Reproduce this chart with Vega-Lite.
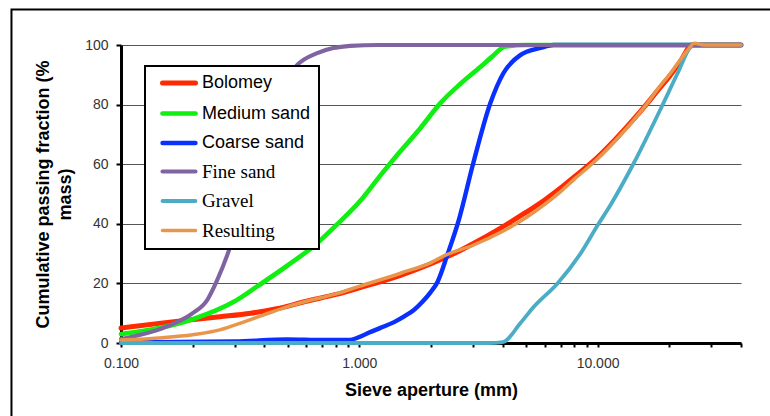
{
  "$schema": "https://vega.github.io/schema/vega-lite/v6.json",
  "width": 620,
  "height": 298,
  "autosize": {"type": "none"},
  "padding": {"left": 121, "top": 45, "right": 29, "bottom": 73},
  "background": "white",
  "config": {
    "view": {"stroke": null},
    "font": "Liberation Sans",
    "axis": {
      "labelFont": "Liberation Sans",
      "labelFontSize": 14,
      "labelColor": "#333333",
      "titleFont": "Liberation Sans",
      "titleFontSize": 18,
      "titleFontWeight": "bold",
      "titleColor": "#000000",
      "domainColor": "#000000",
      "domainWidth": 3,
      "tickColor": "#000000",
      "tickWidth": 2
    }
  },
  "datasets": {
    "curves": [
      {"s": "Bolomey", "d": 0.1, "p": 5},
      {"s": "Bolomey", "d": 0.16, "p": 7},
      {"s": "Bolomey", "d": 0.26, "p": 8.8},
      {"s": "Bolomey", "d": 0.35, "p": 10},
      {"s": "Bolomey", "d": 0.45, "p": 11.5},
      {"s": "Bolomey", "d": 0.6, "p": 14},
      {"s": "Bolomey", "d": 0.8, "p": 16.3},
      {"s": "Bolomey", "d": 1, "p": 18.5},
      {"s": "Bolomey", "d": 1.5, "p": 22.8},
      {"s": "Bolomey", "d": 2, "p": 26.6},
      {"s": "Bolomey", "d": 2.5, "p": 30},
      {"s": "Bolomey", "d": 3, "p": 33.3},
      {"s": "Bolomey", "d": 4, "p": 39},
      {"s": "Bolomey", "d": 5, "p": 43.8},
      {"s": "Bolomey", "d": 6, "p": 48},
      {"s": "Bolomey", "d": 7, "p": 52},
      {"s": "Bolomey", "d": 8, "p": 55.8},
      {"s": "Bolomey", "d": 10, "p": 62.3},
      {"s": "Bolomey", "d": 12, "p": 68.7},
      {"s": "Bolomey", "d": 14, "p": 74.6},
      {"s": "Bolomey", "d": 16.2, "p": 80.5},
      {"s": "Bolomey", "d": 18, "p": 85},
      {"s": "Bolomey", "d": 20, "p": 89.4},
      {"s": "Bolomey", "d": 22, "p": 93.8},
      {"s": "Bolomey", "d": 25, "p": 100},
      {"s": "Bolomey", "d": 40, "p": 100},

      {"s": "Medium sand", "d": 0.1, "p": 3},
      {"s": "Medium sand", "d": 0.15, "p": 5.3},
      {"s": "Medium sand", "d": 0.2, "p": 8},
      {"s": "Medium sand", "d": 0.26, "p": 11.5},
      {"s": "Medium sand", "d": 0.3, "p": 14},
      {"s": "Medium sand", "d": 0.373, "p": 19},
      {"s": "Medium sand", "d": 0.5, "p": 26},
      {"s": "Medium sand", "d": 0.666, "p": 33.5},
      {"s": "Medium sand", "d": 0.8, "p": 39.5},
      {"s": "Medium sand", "d": 1.03, "p": 48.5},
      {"s": "Medium sand", "d": 1.22, "p": 56},
      {"s": "Medium sand", "d": 1.44, "p": 63},
      {"s": "Medium sand", "d": 1.8, "p": 72},
      {"s": "Medium sand", "d": 2.19, "p": 80.5},
      {"s": "Medium sand", "d": 2.66, "p": 87},
      {"s": "Medium sand", "d": 3.22, "p": 92.6},
      {"s": "Medium sand", "d": 3.6, "p": 96},
      {"s": "Medium sand", "d": 4.1, "p": 99.5},
      {"s": "Medium sand", "d": 5, "p": 100},
      {"s": "Medium sand", "d": 40, "p": 100},

      {"s": "Coarse sand", "d": 0.1, "p": 0.2},
      {"s": "Coarse sand", "d": 0.3, "p": 0.5},
      {"s": "Coarse sand", "d": 0.5, "p": 1.2},
      {"s": "Coarse sand", "d": 0.7, "p": 1},
      {"s": "Coarse sand", "d": 0.9, "p": 1},
      {"s": "Coarse sand", "d": 1, "p": 2},
      {"s": "Coarse sand", "d": 1.1, "p": 3.5},
      {"s": "Coarse sand", "d": 1.22, "p": 5},
      {"s": "Coarse sand", "d": 1.4, "p": 7},
      {"s": "Coarse sand", "d": 1.55, "p": 9},
      {"s": "Coarse sand", "d": 1.69, "p": 11},
      {"s": "Coarse sand", "d": 1.85, "p": 14},
      {"s": "Coarse sand", "d": 1.99, "p": 17},
      {"s": "Coarse sand", "d": 2.13, "p": 20.5},
      {"s": "Coarse sand", "d": 2.34, "p": 29.5},
      {"s": "Coarse sand", "d": 2.61, "p": 41},
      {"s": "Coarse sand", "d": 3.01, "p": 60.4},
      {"s": "Coarse sand", "d": 3.55, "p": 80.5},
      {"s": "Coarse sand", "d": 4.03, "p": 90.6},
      {"s": "Coarse sand", "d": 4.74, "p": 96.6},
      {"s": "Coarse sand", "d": 5.76, "p": 99},
      {"s": "Coarse sand", "d": 6.53, "p": 100},
      {"s": "Coarse sand", "d": 40, "p": 100},

      {"s": "Gravel", "d": 0.1, "p": 0},
      {"s": "Gravel", "d": 3.5, "p": 0},
      {"s": "Gravel", "d": 4, "p": 0.3},
      {"s": "Gravel", "d": 4.75, "p": 6.7},
      {"s": "Gravel", "d": 5.38, "p": 12},
      {"s": "Gravel", "d": 6.79, "p": 20},
      {"s": "Gravel", "d": 8.48, "p": 30},
      {"s": "Gravel", "d": 10.1, "p": 40},
      {"s": "Gravel", "d": 11, "p": 44.6},
      {"s": "Gravel", "d": 14.2, "p": 60.4},
      {"s": "Gravel", "d": 18.9, "p": 80.5},
      {"s": "Gravel", "d": 21.7, "p": 90.6},
      {"s": "Gravel", "d": 24.6, "p": 99.3},
      {"s": "Gravel", "d": 25.5, "p": 100},
      {"s": "Gravel", "d": 40, "p": 100},

      {"s": "Fine sand", "d": 0.1, "p": 1.3},
      {"s": "Fine sand", "d": 0.161, "p": 6},
      {"s": "Fine sand", "d": 0.2, "p": 10},
      {"s": "Fine sand", "d": 0.23, "p": 14.4},
      {"s": "Fine sand", "d": 0.253, "p": 21},
      {"s": "Fine sand", "d": 0.295, "p": 35},
      {"s": "Fine sand", "d": 0.348, "p": 55},
      {"s": "Fine sand", "d": 0.423, "p": 78},
      {"s": "Fine sand", "d": 0.549, "p": 93.3},
      {"s": "Fine sand", "d": 0.666, "p": 97.3},
      {"s": "Fine sand", "d": 0.917, "p": 99.7},
      {"s": "Fine sand", "d": 1.2, "p": 100},
      {"s": "Fine sand", "d": 40, "p": 100},

      {"s": "Resulting", "d": 0.1, "p": 1},
      {"s": "Resulting", "d": 0.15, "p": 1.8},
      {"s": "Resulting", "d": 0.2, "p": 2.8},
      {"s": "Resulting", "d": 0.26, "p": 4.4},
      {"s": "Resulting", "d": 0.3, "p": 6},
      {"s": "Resulting", "d": 0.4, "p": 9.5},
      {"s": "Resulting", "d": 0.5, "p": 12.2},
      {"s": "Resulting", "d": 0.6, "p": 14},
      {"s": "Resulting", "d": 0.8, "p": 16.5},
      {"s": "Resulting", "d": 1, "p": 19},
      {"s": "Resulting", "d": 1.5, "p": 23.5},
      {"s": "Resulting", "d": 2, "p": 27},
      {"s": "Resulting", "d": 2.3, "p": 29.5},
      {"s": "Resulting", "d": 3, "p": 32.8},
      {"s": "Resulting", "d": 4, "p": 37.5},
      {"s": "Resulting", "d": 5, "p": 42},
      {"s": "Resulting", "d": 6, "p": 46.5},
      {"s": "Resulting", "d": 7, "p": 50.8},
      {"s": "Resulting", "d": 8, "p": 55},
      {"s": "Resulting", "d": 10, "p": 61.8},
      {"s": "Resulting", "d": 12, "p": 68.3},
      {"s": "Resulting", "d": 14, "p": 74.3},
      {"s": "Resulting", "d": 16.2, "p": 80.5},
      {"s": "Resulting", "d": 18, "p": 85.5},
      {"s": "Resulting", "d": 20, "p": 90},
      {"s": "Resulting", "d": 22, "p": 94.5},
      {"s": "Resulting", "d": 24, "p": 98.5},
      {"s": "Resulting", "d": 25.5, "p": 100.6},
      {"s": "Resulting", "d": 28, "p": 100},
      {"s": "Resulting", "d": 40, "p": 100}
    ]
  },
  "layer": [
    {
      "description": "Outer chart frame",
      "data": {"values": [{}]},
      "mark": {"type": "rect", "fill": null, "stroke": "#000000", "strokeWidth": 2, "clip": false},
      "encoding": {
        "x": {"datum": 0.0347, "type": "quantitative"},
        "x2": {"datum": 1000},
        "y": {"datum": 111.9, "type": "quantitative"},
        "y2": {"datum": -30}
      }
    },
    {
      "data": {"name": "curves"},
      "mark": {"type": "line", "interpolate": "monotone", "strokeCap": "round", "strokeJoin": "round"},
      "encoding": {
        "x": {
          "field": "d",
          "type": "quantitative",
          "scale": {"type": "log", "domain": [0.1, 40], "nice": false},
          "axis": {
            "title": "Sieve aperture (mm)",
            "values": [0.1, 0.2, 0.3, 0.4, 0.5, 0.6, 0.7, 0.8, 0.9, 1, 2, 3, 4, 5, 6, 7, 8, 9, 10, 20, 30, 40],
            "labelExpr": "(datum.value == 0.1 || datum.value == 1 || datum.value == 10) ? format(datum.value, '.3f') : ''",
            "tickSize": 4,
            "labelPadding": 9,
            "labelFlush": false,
            "labelOverlap": false,
            "grid": false,
            "titlePadding": 11
          }
        },
        "y": {
          "field": "p",
          "type": "quantitative",
          "scale": {"domain": [0, 100], "nice": false},
          "axis": {
            "title": ["Cumulative passing fraction (%", "mass)"],
            "titleLineHeight": 22,
            "values": [0, 20, 40, 60, 80, 100],
            "tickSize": 5,
            "labelPadding": 8,
            "grid": true,
            "gridColor": "#555555",
            "gridWidth": 1,
            "titlePadding": 10
          }
        },
        "color": {
          "field": "s",
          "type": "nominal",
          "scale": {
            "domain": ["Bolomey", "Medium sand", "Coarse sand", "Fine sand", "Gravel", "Resulting"],
            "range": ["#ff2a00", "#11ee11", "#0a30ff", "#8064a2", "#4bacc6", "#e8964c"]
          },
          "legend": {
            "title": null,
            "orient": "none",
            "legendX": 24,
            "legendY": 21,
            "padding": 8,
            "symbolType": "M-3.47,0H3.47",
            "symbolSize": 90.25,
            "symbolStrokeWidth": 5,
            "symbolOffset": 17,
            "labelOffset": 14,
            "labelFontSize": 18,
            "labelColor": "#000000",
            "rowPadding": 10.5,
            "labelLimit": 300,
            "encode": {
              "legend": {"update": {"stroke": {"value": "#000000"}, "strokeWidth": {"value": 2}, "fill": {"value": "#ffffff"}}},
              "symbols": {"update": {"strokeCap": {"value": "round"}}},
              "labels": {"update": {
                "font": {"signal": "indexof(['Fine sand', 'Gravel', 'Resulting'], datum.label) >= 0 ? 'Liberation Serif' : 'Liberation Sans'"},
                "fontSize": {"signal": "indexof(['Fine sand', 'Gravel', 'Resulting'], datum.label) >= 0 ? 19 : 18"}
              }}
            }
          }
        },
        "strokeWidth": {
          "field": "s",
          "type": "nominal",
          "scale": {
            "domain": ["Bolomey", "Medium sand", "Coarse sand", "Fine sand", "Gravel", "Resulting"],
            "range": [5, 3.5, 5, 5, 3.5, 5]
          },
          "legend": null
        }
      }
    }
  ]
}
